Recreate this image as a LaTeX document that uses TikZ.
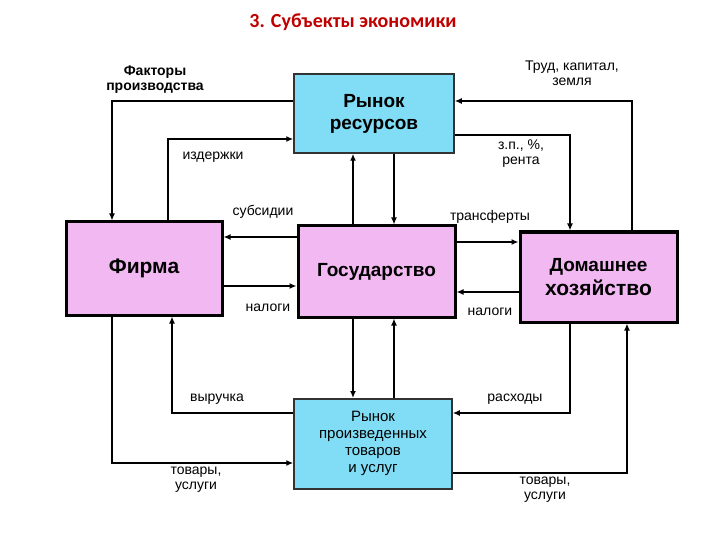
\documentclass[tikz,border=0pt]{standalone}
\usepackage{fontspec}
\setmainfont{Liberation Sans}
\newfontfamily\titlefont{Carlito}
\usetikzlibrary{arrows.meta}
\definecolor{cy}{HTML}{80DDF5}
\definecolor{pk}{HTML}{F2B8F2}
\definecolor{tred}{HTML}{C00000}
\begin{document}
\begin{tikzpicture}[x=1pt,y=-1pt,
  rbox/.style={draw=black!80,line width=1.5pt,fill=cy,inner sep=0pt,font=\bfseries\fontsize{19}{22}\selectfont,align=center},
  pbox/.style={draw=black,line width=3pt,fill=pk,inner sep=0pt,font=\bfseries\fontsize{21}{24}\selectfont,align=center},
  lab/.style={font=\fontsize{14}{15}\selectfont,align=center,inner sep=0pt},
  con/.style={line width=2pt,-{Latex[length=7pt,width=6pt]}}]
\useasboundingbox (0,0) rectangle (720,540);
\node[font=\titlefont\bfseries\fontsize{20}{22}\selectfont,text=tred] (t) at (353,22) {3. Субъекты экономики};
\node[rbox,minimum width=160pt,minimum height=79pt] (rr) at (374,113.5) {Рынок\\ресурсов};
\node[pbox,minimum width=156pt,minimum height=93pt] (f) at (144,268.5) {Фирма};
\node[pbox,minimum width=157pt,minimum height=91pt] (g) at (376.5,271.5) {\fontsize{19}{21}\selectfont Государство};
\node[pbox,minimum width=157pt,minimum height=90pt] (h) at (598.5,277) {\fontsize{19}{23}\selectfont Домашнее\\хозяйство};
\node[rbox,minimum width=158pt,minimum height=90pt,font=\fontsize{15}{17}\selectfont,anchor=north] (rp) at (373,398) {Рынок\\произведенных\\товаров\\и услуг};
% resource market loops
\draw[con] (rr.west|-0,101) -| (f.north-|112,0);
\draw[con] (f.north-|168,0) |- (rr.west|-0,139);
\draw[con] (h.north-|632,0) |- (rr.east|-0,101);
\draw[con] (rr.east|-0,135) -| (h.north-|570,0);
\draw[con] (g.north-|353,0) -- (rr.south-|353,0);
\draw[con] (rr.south-|394,0) -- (g.north-|394,0);
\draw[con] (g.west|-0,237) -- (f.east|-0,237);
\draw[con] (f.east|-0,286) -- (g.west|-0,286);
\draw[con] (g.east|-0,242) -- (h.west|-0,242);
\draw[con] (h.west|-0,292) -- (g.east|-0,292);
\draw[con] (g.south-|353,0) -- (rp.north-|353,0);
\draw[con] (rp.north-|394,0) -- (g.south-|394,0);
\draw[con] (rp.west|-0,413) -| (f.south-|172,0);
\draw[con] (f.south-|112,0) |- (rp.west|-0,463);
\draw[con] (h.south-|570,0) |- (rp.east|-0,413);
\draw[con] (rp.east|-0,473) -| (h.south-|627,0);
% labels
\node[lab,font=\bfseries\fontsize{14}{15}\selectfont] (l1) at (155,80) {Факторы\\производства};
\node[lab] (l2) at (213,157) {издержки};
\node[lab] (l3) at (572,73) {Труд, капитал,\\земля};
\node[lab] (l4) at (521,154) {з.п., \%,\\рента};
\node[lab] (l5) at (263,212) {субсидии};
\node[lab] (l6) at (268,308) {налоги};
\node[lab] (l7) at (490,217) {трансферты};
\node[lab] (l8) at (490,312) {налоги};
\node[lab] (l9) at (217,399) {выручка};
\node[lab] (l10) at (515,399) {расходы};
\node[lab] (l11) at (196,480) {товары,\\услуги};
\node[lab] (l12) at (545,490) {товары,\\услуги};
\end{tikzpicture}
\end{document}
